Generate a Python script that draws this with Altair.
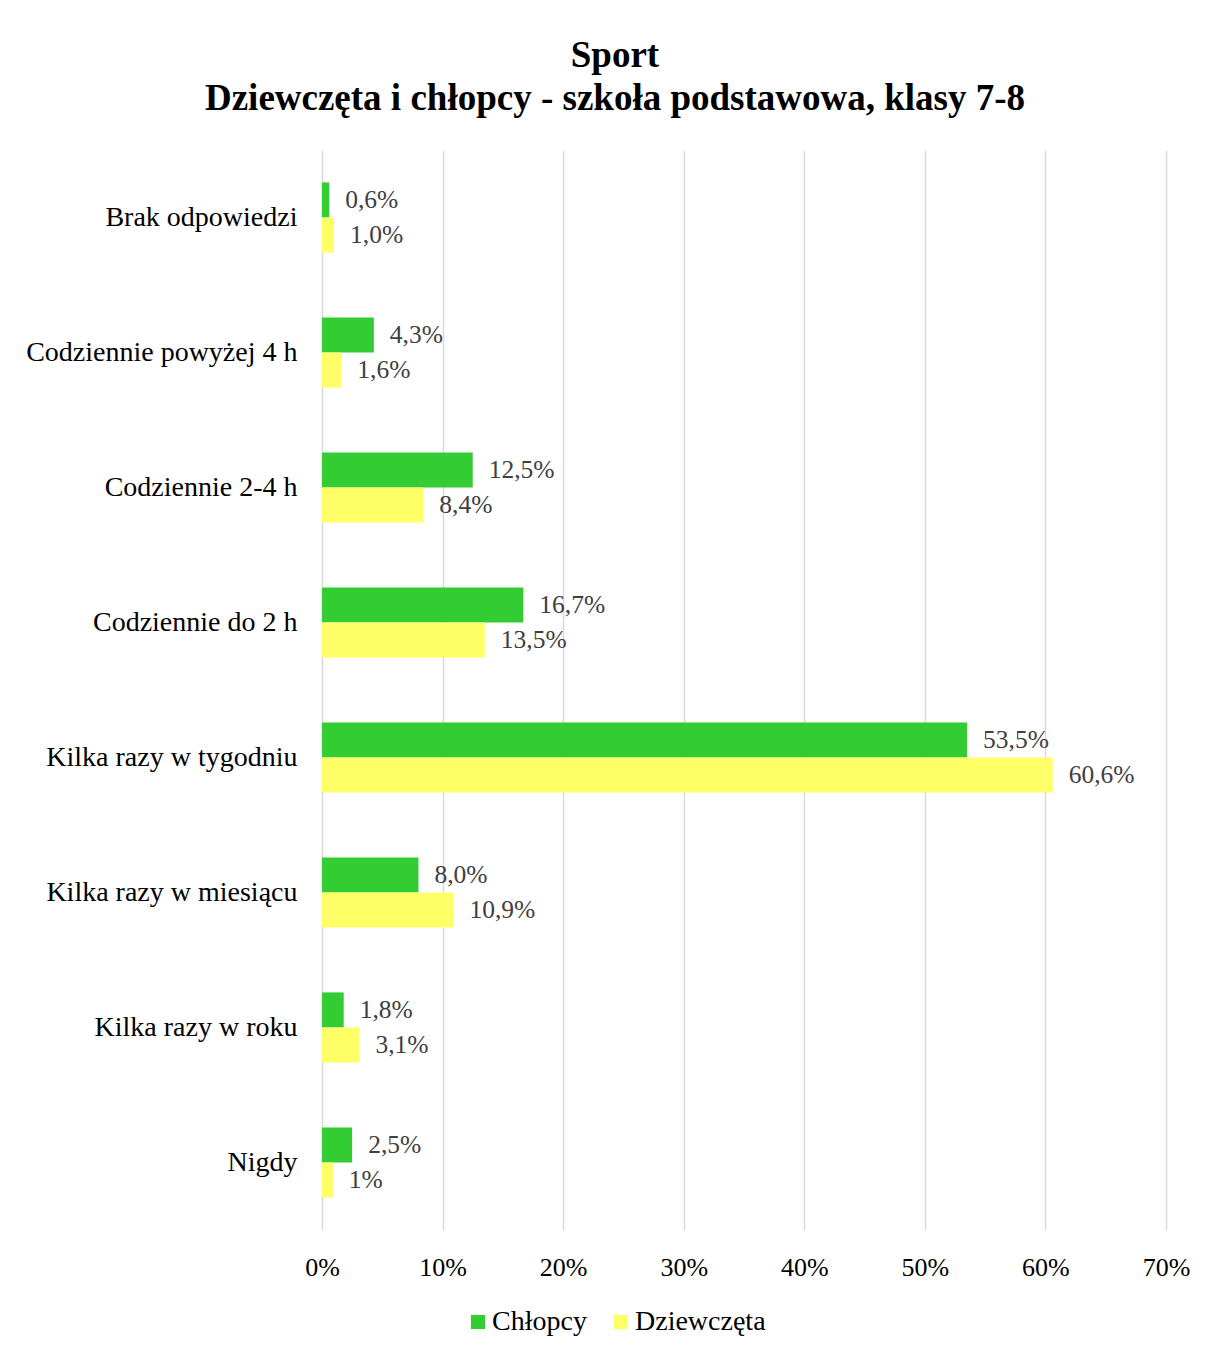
import altair as alt
import pandas as pd

categories = [
    "Brak odpowiedzi",
    "Codziennie powyżej 4 h",
    "Codziennie 2-4 h",
    "Codziennie do 2 h",
    "Kilka razy w tygodniu",
    "Kilka razy w miesiącu",
    "Kilka razy w roku",
    "Nigdy",
]
series = ["Chłopcy", "Dziewczęta"]
chlopcy = [0.6, 4.3, 12.5, 16.7, 53.5, 8.0, 1.8, 2.5]
dziewczeta = [1.0, 1.6, 8.4, 13.5, 60.6, 10.9, 3.1, 0.9]
chlopcy_labels = ["0,6%", "4,3%", "12,5%", "16,7%", "53,5%", "8,0%", "1,8%", "2,5%"]
dziewczeta_labels = ["1,0%", "1,6%", "8,4%", "13,5%", "60,6%", "10,9%", "3,1%", "1%"]
colors = ["#33CC33", "#FFFF66"]
x_ticks = [0, 10, 20, 30, 40, 50, 60, 70]

rows = []
for i, c in enumerate(categories):
    rows.append({"category": c, "series": series[0], "value": chlopcy[i], "label": chlopcy_labels[i]})
    rows.append({"category": c, "series": series[1], "value": dziewczeta[i], "label": dziewczeta_labels[i]})
df = pd.DataFrame(rows)

FONT = "Liberation Serif"

base = alt.Chart(df).encode(
    y=alt.Y(
        "category:N",
        sort=categories,
        scale=alt.Scale(paddingInner=0.48, paddingOuter=0.24),
        axis=alt.Axis(
            title=None, ticks=False, domain=False, labelFontSize=28, labelFont=FONT,
            labelColor="#000000", labelPadding=25, grid=False, labelLimit=400,
        ),
    ),
    yOffset=alt.YOffset("series:N", sort=series),
)

bars = base.mark_bar().encode(
    x=alt.X(
        "value:Q",
        scale=alt.Scale(domain=[0, 70], nice=False),
        axis=alt.Axis(
            title=None, values=x_ticks, labelExpr="datum.value + '%'",
            domain=False, ticks=False, grid=True, gridColor="#d9d9d9", gridWidth=1.5,
            labelFontSize=26, labelFont=FONT, labelColor="#000000", labelPadding=24,
            labelAlign="center", labelFlush=False,
        ),
    ),
    color=alt.Color(
        "series:N",
        sort=series,
        scale=alt.Scale(domain=series, range=colors),
        legend=alt.Legend(
            title=None, orient="none", direction="horizontal", legendX=142, legendY=1158,
            symbolType="square", symbolSize=200, symbolStrokeWidth=0, symbolOpacity=1,
            labelFontSize=28, labelFont=FONT, labelColor="#000000", columnPadding=20,
            labelOffset=0,
        ),
    ),
)

text = base.mark_text(
    align="left", baseline="middle", dx=16, fontSize=25.5, font=FONT, color="#404040"
).encode(
    x=alt.X("value:Q"),
    text="label:N",
)

chart = (
    alt.layer(bars, text)
    .properties(
        width=844,
        height=1080,
        autosize=alt.AutoSizeParams(type="none"),
        padding={"left": 314, "top": 142, "right": 30, "bottom": 110},
        view=alt.ViewBackground(strokeOpacity=0, strokeWidth=0),
        title=alt.TitleParams(
            text=["Sport", "Dziewczęta i chłopcy - szkoła podstawowa, klasy 7-8"],
            fontSize=37, font=FONT, fontWeight="bold", color="#000000",
            anchor="middle", dx=-129, offset=32, lineHeight=43,
        ),
    )
    .configure_view(strokeWidth=0, stroke="transparent", strokeOpacity=0)
    .configure_axisY(grid=False, domain=False)
    .configure(background="#ffffff")
)

chart.save("out.html", embed_options={"renderer": "svg", "actions": False})
